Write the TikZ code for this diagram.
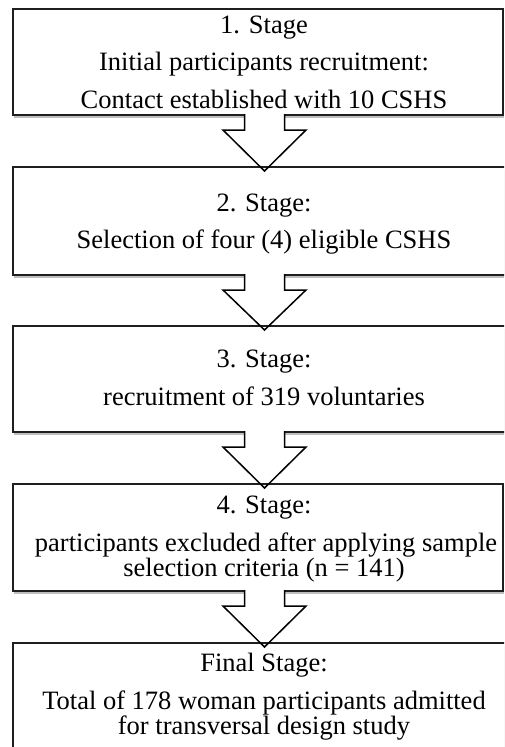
\documentclass[tikz,border=0pt]{standalone}
\usepackage{fontspec}
\setmainfont{Liberation Serif}
\usetikzlibrary{calc,fit,shadows}

\tikzset{
  stagebox/.style={draw=black!88, line width=2pt, fill=white, inner sep=0pt, outer sep=0pt,
    drop shadow={shadow xshift=1pt, shadow yshift=-3pt, opacity=0.25, fill=black}},
  stagetext/.style={anchor=base, inner sep=0pt, font=\fontsize{26.5}{30}\selectfont, text=black},
  flowarrow/.style={draw=black, line width=1.5pt, line join=miter},
}

% hollow block arrow from the bottom of one stage box to the top of the next
\newcommand\stagearrow[2]{%
  \coordinate (top) at (#1.south -| axis);
  \coordinate (tip) at (#2.north -| axis);
  \fill[white] ($(top)+(-20,-3)$) rectangle ($(top)+(20,6)$);
  \draw[flowarrow] ($(top)+(-20,-1)$) -- ($(top)+(-20,15)$) -- ($(top)+(-41.5,15)$)
    -- ($(tip)+(0,4)$) -- ($(top)+(41.5,15)$) -- ($(top)+(20,15)$) -- ($(top)+(20,-1)$);
}

\begin{document}
\begin{tikzpicture}[x=1pt,y=-1pt]
\useasboundingbox (0,0) rectangle (504,747);
\clip (0,0) rectangle (504,747);
\fill[white] (0,0) rectangle (504,747);
\coordinate (axis) at (264.5,0);

% stage boxes
\node[stagebox, fit={(13,9) (502.5,115)}] (s1) {};
\node[stagebox, fit={(13,167) (525,275)}] (s2) {};
\node[stagebox, fit={(13,326) (525,432)}] (s3) {};
\node[stagebox, fit={(13,484) (502.5,591)}] (s4) {};
\node[stagebox, fit={(13,643) (525,775)}] (s5) {};

% arrows between the stages
\stagearrow{s1}{s2}
\stagearrow{s2}{s3}
\stagearrow{s3}{s4}
\stagearrow{s4}{s5}

% stage texts
\node[stagetext] (t1a) at (264,33) {1. Stage};
\node[stagetext] (t1b) at (264,70.5) {Initial participants recruitment:};
\node[stagetext] (t1c) at (264,108) {Contact established with 10 CSHS};

\node[stagetext] (t2a) at (264,211) {2. Stage:};
\node[stagetext] (t2b) at (264,248.5) {Selection of four (4) eligible CSHS};

\node[stagetext] (t3a) at (264,367.5) {3. Stage:};
\node[stagetext] (t3b) at (264,405) {recruitment of 319 voluntaries};

\node[stagetext] (t4a) at (264,513.5) {4. Stage:};
\node[stagetext] (t4b) at (266,551.5) {participants excluded after applying sample};
\node[stagetext] (t4c) at (264,576) {selection criteria (n = 141)};

\node[stagetext] (t5a) at (264,671.5) {Final Stage:};
\node[stagetext] (t5b) at (264,709) {Total of 178 woman participants admitted};
\node[stagetext] (t5c) at (264,734) {for transversal design study};
\end{tikzpicture}
\end{document}
